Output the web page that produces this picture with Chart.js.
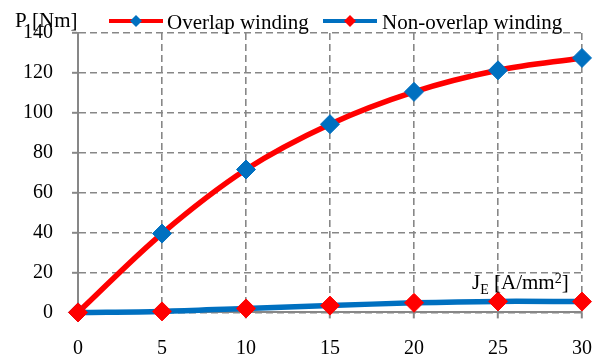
<!DOCTYPE html>
<html>
<head>
<meta charset="utf-8">
<script src="https://cdn.jsdelivr.net/npm/chart.js@4"></script>
<style>
  html, body { margin: 0; padding: 0; background: #fff; }
  canvas { display: block; }
</style>
</head>
<body>
<canvas id="c" width="610" height="358"></canvas>
<script>
// Current density J_E [A/mm²]
const currentDensity = [0, 5, 10, 15, 20, 25, 30];
// Torque P [Nm] for each winding type
const overlapTorque = [0, 39.5, 71.6, 94.3, 110.5, 121.3, 127.5];
const nonOverlapTorque = [0, 0.5, 2.0, 3.4, 4.8, 5.5, 5.4];
// Axis ticks
const xTicks = [0, 5, 10, 15, 20, 25, 30];
const yTicks = [0, 20, 40, 60, 80, 100, 120, 140];

const RED = '#FF0000';
const BLUE = '#0070C0';
const GRID = '#878787';
const FONT = '"Liberation Serif", "Times New Roman", serif';

const toPoints = (xs, ys) => xs.map((x, i) => ({ x, y: ys[i] }));

// Axis titles and the legend, drawn as text on top of the chart
const annotations = {
  id: 'annotations',
  afterDraw(chart) {
    const ctx = chart.ctx;
    ctx.save();
    ctx.fillStyle = '#000';
    ctx.textBaseline = 'alphabetic';
    ctx.textAlign = 'left';

    // y-axis title
    ctx.font = '21px ' + FONT;
    ctx.fillText('P', 15, 27);
    ctx.fillText('[Nm]', 32, 27);

    // legend entries: line sample with marker, then label
    const entry = (x0, x1, y, lineColor, markColor, label, tx) => {
      ctx.strokeStyle = lineColor;
      ctx.lineWidth = 4;
      ctx.beginPath();
      ctx.moveTo(x0, y);
      ctx.lineTo(x1, y);
      ctx.stroke();
      const cx = (x0 + x1) / 2, r = 6;
      ctx.fillStyle = markColor;
      ctx.beginPath();
      ctx.moveTo(cx - r, y);
      ctx.lineTo(cx, y - r);
      ctx.lineTo(cx + r, y);
      ctx.lineTo(cx, y + r);
      ctx.closePath();
      ctx.fill();
      ctx.fillStyle = '#000';
      ctx.font = '21px ' + FONT;
      ctx.fillText(label, tx, 29);
    };
    entry(109, 163, 21, RED, BLUE, 'Overlap winding', 167);
    entry(323, 377, 21, BLUE, RED, 'Non-overlap winding', 382);

    // x-axis title: J_E [A/mm²]
    let x = 472;
    const base = 289;
    ctx.font = '21px ' + FONT;
    ctx.fillText('J', x, base);
    x += ctx.measureText('J').width;
    ctx.font = '14px ' + FONT;
    ctx.fillText('E', x, base + 5);
    x += ctx.measureText('E').width;
    ctx.font = '21px ' + FONT;
    x += ctx.measureText(' ').width;
    ctx.fillText('[A/mm', x, base);
    x += ctx.measureText('[A/mm').width;
    ctx.font = '14px ' + FONT;
    ctx.fillText('2', x, base - 6);
    x += ctx.measureText('2').width;
    ctx.font = '21px ' + FONT;
    ctx.fillText(']', x, base);
    ctx.restore();
  }
};

const gridOpts = {
  color: GRID,
  lineWidth: 1.6,
  tickLength: 6,
  tickColor: GRID,
  tickWidth: 2,
  tickBorderDash: []
};
const borderOpts = { display: true, color: GRID, width: 2, dash: [7, 4] };
const tickFont = { family: FONT, size: 20 };

new Chart(document.getElementById('c'), {
  type: 'line',
  data: {
    datasets: [
      {
        label: 'Non-overlap winding',
        data: toPoints(currentDensity, nonOverlapTorque),
        borderColor: BLUE,
        borderWidth: 5.5,
        pointStyle: 'rectRot',
        pointRadius: 9.5,
        pointBackgroundColor: RED,
        pointBorderColor: RED,
        pointBorderWidth: 1,
        tension: 0.35,
        clip: false,
        order: 0
      },
      {
        label: 'Overlap winding',
        data: toPoints(currentDensity, overlapTorque),
        borderColor: RED,
        borderWidth: 5.5,
        pointStyle: 'rectRot',
        pointRadius: 9.5,
        pointBackgroundColor: BLUE,
        pointBorderColor: BLUE,
        pointBorderWidth: 1,
        tension: 0.35,
        clip: false,
        order: 1
      }
    ]
  },
  options: {
    responsive: false,
    animation: false,
    devicePixelRatio: 1,
    layout: { padding: { top: 33, right: 24.5, left: 0, bottom: 0 } },
    plugins: {
      legend: { display: false },
      tooltip: { enabled: false }
    },
    scales: {
      x: {
        type: 'linear',
        min: 0,
        max: 30,
        afterBuildTicks: s => { s.ticks = xTicks.map(v => ({ value: v })); },
        afterFit: s => { s.height = 45.6; },
        grid: gridOpts,
        border: borderOpts,
        ticks: { color: '#000', font: tickFont, padding: 18, maxRotation: 0 }
      },
      y: {
        type: 'linear',
        min: 0,
        max: 140,
        afterBuildTicks: s => { s.ticks = yTicks.map(v => ({ value: v })); },
        afterFit: s => { s.width = 78; },
        grid: gridOpts,
        border: borderOpts,
        ticks: { color: '#000', font: tickFont, padding: 19 }
      }
    }
  },
  plugins: [annotations]
});
</script>
</body>
</html>
